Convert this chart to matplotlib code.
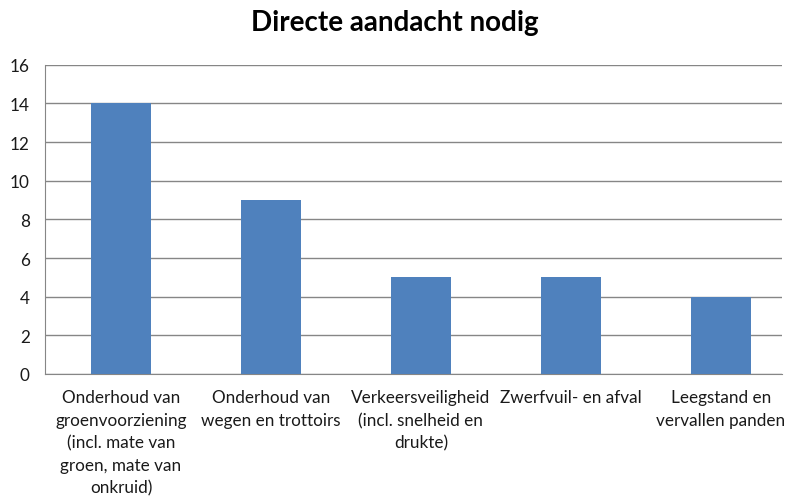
import matplotlib
matplotlib.use("Agg")
import matplotlib.pyplot as plt

categories = [
    "Onderhoud van\ngroenvoorziening\n(incl. mate van\ngroen, mate van\nonkruid)",
    "Onderhoud van\nwegen en trottoirs",
    "Verkeersveiligheid\n(incl. snelheid en\ndrukte)",
    "Zwerfvuil- en afval",
    "Leegstand en\nvervallen panden",
]
values = [14, 9, 5, 5, 4]
yticks = [0, 2, 4, 6, 8, 10, 12, 14, 16]

plt.rcParams['font.family'] = ['Lato', 'DejaVu Sans']

fig = plt.figure(figsize=(7.89, 5.02), dpi=100)
ax = fig.add_axes([0.057, 0.253, 0.934, 0.616])

x = range(len(categories))
ax.bar(x, values, width=0.4, color='#4F81BD', zorder=3)

# grid + axes
ax.set_ylim(0, 16)
ax.set_xlim(-0.507, 4.407)
ax.set_yticks(yticks)
ax.yaxis.grid(True, color='#868686', linewidth=1, zorder=0)
ax.set_xticks(list(x))
ax.set_xticklabels(categories, fontsize=12.3, linespacing=1.5, color='#1a1a1a')
ax.tick_params(axis='y', labelsize=12.3, length=0, pad=11, colors='#1a1a1a')
ax.tick_params(axis='x', length=0, pad=11)
for s in ['top', 'right']:
    ax.spines[s].set_visible(False)
for s in ['left', 'bottom']:
    ax.spines[s].set_color('#868686')

fig.text(0.5, 0.955, "Directe aandacht nodig", ha='center', va='center',
         fontsize=20, fontweight='bold')

fig.savefig("out.png", dpi=100)
